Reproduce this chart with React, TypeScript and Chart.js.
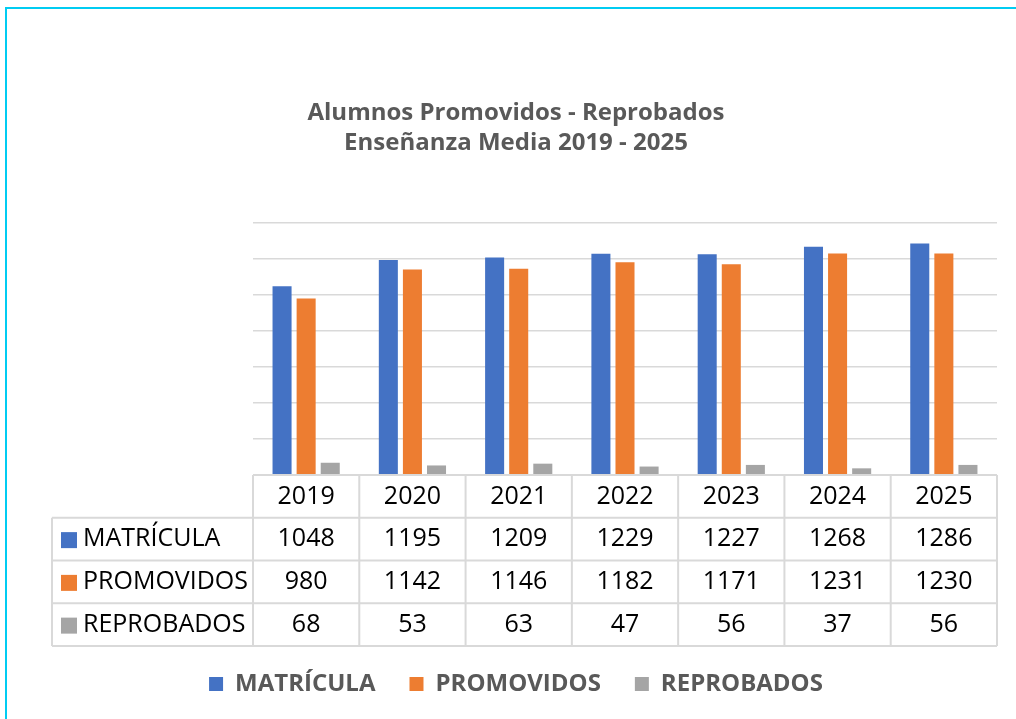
import React, { useEffect, useRef } from "react";
import { Chart, registerables } from "chart.js";

Chart.register(...registerables);

const years = ["2019", "2020", "2021", "2022", "2023", "2024", "2025"];
const matricula = [1048, 1195, 1209, 1229, 1227, 1268, 1286];
const promovidos = [980, 1142, 1146, 1182, 1171, 1231, 1230];
const reprobados = [68, 53, 63, 47, 56, 37, 56];
const seriesNames = ["MATRÍCULA", "PROMOVIDOS", "REPROBADOS"];
const seriesColors = ["#4472C4", "#ED7D31", "#A5A5A5"];
const titleLines = ["Alumnos Promovidos - Reprobados", "Enseñanza Media 2019 - 2025"];

const FONT = "'Open Sans', Lato, sans-serif";

const tablePlugin = {
  id: "dataTable",
  afterDraw(chart: any) {
    const { ctx, chartArea, scales } = chart;
    const xs = scales.x;
    const top = chartArea.bottom;
    const rowH = 42.75;
    const labelLeft = 52;
    const left = chartArea.left;
    const right = chartArea.right;
    const n = years.length;
    const colW = (right - left) / n;
    const rows = [matricula, promovidos, reprobados];
    ctx.save();
    ctx.strokeStyle = "#D9D9D9";
    ctx.lineWidth = 2;
    ctx.beginPath();
    ctx.moveTo(left, top);
    ctx.lineTo(right, top);
    for (let r = 1; r <= 4; r++) {
      ctx.moveTo(labelLeft, top + r * rowH);
      ctx.lineTo(right, top + r * rowH);
    }
    for (let i = 0; i <= n; i++) {
      const xx = left + i * colW;
      ctx.moveTo(xx, top);
      ctx.lineTo(xx, top + 4 * rowH);
    }
    ctx.moveTo(labelLeft, top + rowH);
    ctx.lineTo(labelLeft, top + 4 * rowH);
    ctx.stroke();

    ctx.fillStyle = "#000000";
    ctx.font = `25px ${FONT}`;
    ctx.textAlign = "center";
    ctx.textBaseline = "middle";
    years.forEach((y, i) => {
      ctx.fillText(y, xs.getPixelForValue(i), top + rowH / 2);
    });
    rows.forEach((vals, r) => {
      const cy = top + (r + 1.5) * rowH;
      vals.forEach((v, i) => {
        ctx.fillStyle = "#000000";
        ctx.fillText(String(v), xs.getPixelForValue(i), cy);
      });
      ctx.fillStyle = seriesColors[r];
      ctx.fillRect(61, cy - 7, 16, 16);
      ctx.fillStyle = "#000000";
      ctx.textAlign = "left";
      ctx.fillText(seriesNames[r], 83, cy);
      ctx.textAlign = "center";
    });
    ctx.restore();
  },
};

export default function App() {
  const ref = useRef<HTMLCanvasElement | null>(null);
  useEffect(() => {
    if (!ref.current) return;
    const data = [matricula, promovidos, reprobados];
    const chart = new Chart(ref.current, {
      type: "bar",
      data: {
        labels: years,
        datasets: seriesNames.map((name, i) => ({
          label: name,
          data: data[i],
          backgroundColor: seriesColors[i],
          borderWidth: 0,
          categoryPercentage: 0.68,
          barPercentage: 0.79,
        })),
      },
      options: {
        responsive: false,
        animation: false,
        devicePixelRatio: 1,
        layout: { padding: { left: 35, right: 19, top: 0, bottom: 13 } },
        plugins: {
          title: {
            display: true,
            text: titleLines,
            color: "#595959",
            font: { family: FONT, size: 24, weight: "bold", lineHeight: 30 / 24 },
            padding: { top: 98, bottom: 65 },
          },
          legend: {
            display: true,
            position: "bottom",
            labels: {
              color: "#595959",
              font: { family: FONT, size: 24, weight: "bold" },
              boxWidth: 14,
              boxHeight: 14,
              padding: 34,
            },
          },
          tooltip: { enabled: false },
        },
        scales: {
          x: {
            grid: { display: false },
            border: { display: false },
            ticks: { display: false },
            afterFit: (s: any) => {
              s.height = 163;
            },
          },
          y: {
            min: 0,
            max: 1400,
            ticks: { display: false, stepSize: 200 },
            grid: { color: "#D9D9D9", lineWidth: 1.5, drawTicks: false },
            border: { display: false },
            afterFit: (s: any) => {
              s.width = 218;
            },
          },
        },
      },
      plugins: [tablePlugin],
    });
    return () => chart.destroy();
  }, []);

  return (
    <div style={{ position: "fixed", left: 0, top: 0, width: 1016, height: 719, overflow: "hidden", background: "#fff" }}>
      <canvas ref={ref} width={1016} height={719} style={{ position: "absolute", left: 0, top: 0, width: 1016, height: 719 }} />
      <div
        style={{
          position: "absolute",
          left: 5,
          top: 7,
          width: 1100,
          height: 800,
          borderTop: "2px solid #00CCF2",
          borderLeft: "2px solid #00CCF2",
          pointerEvents: "none",
        }}
      />
    </div>
  );
}
